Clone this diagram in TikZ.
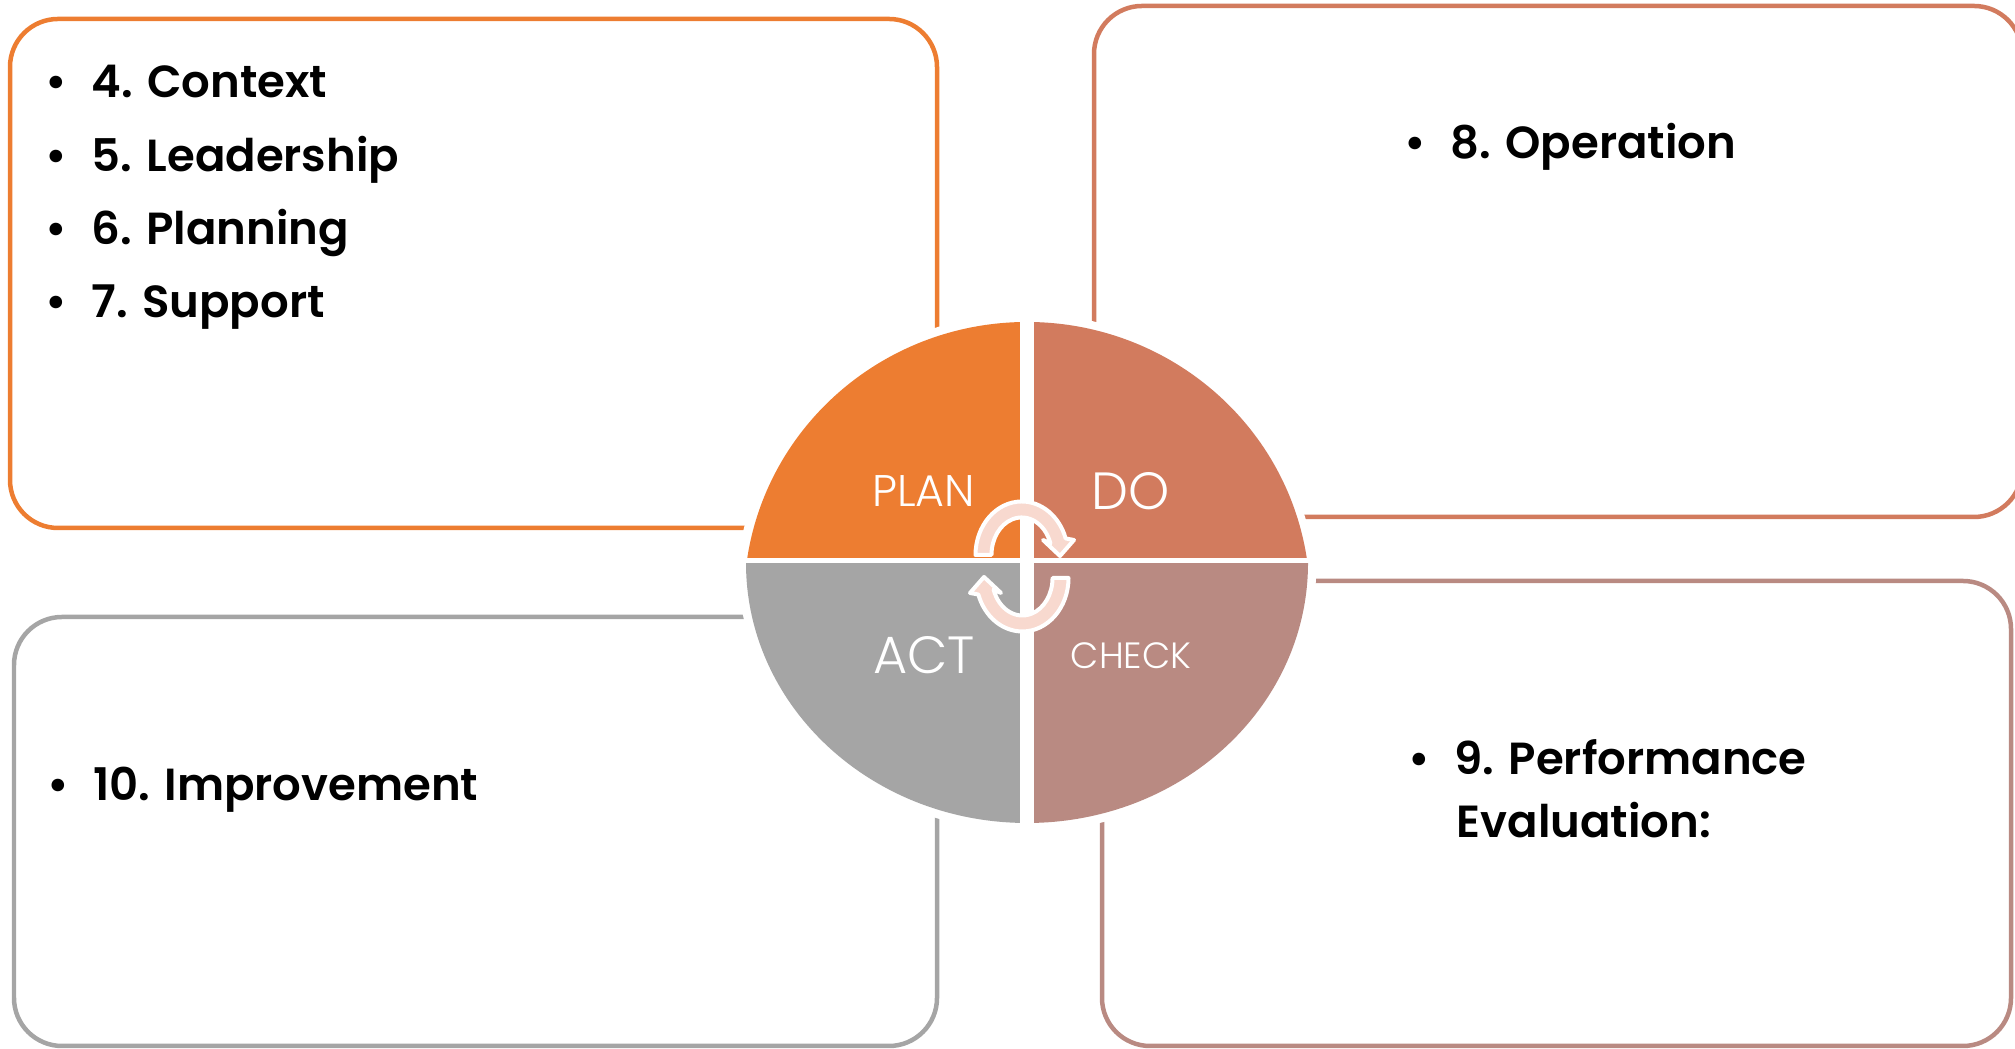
\documentclass[tikz,border=0pt]{standalone}
\usepackage{fontspec}
\setmainfont{Poppins}[BoldFont=* SemiBold]
\newfontfamily\quadfont{Poppins Light}
\usetikzlibrary{calc}

\definecolor{planorange}{HTML}{ED7D31}
\definecolor{docoral}{HTML}{D27B5E}
\definecolor{checkrose}{HTML}{B98A82}
\definecolor{actgray}{HTML}{A5A5A5}
\definecolor{arrowpink}{HTML}{F8D9CF}

\tikzset{
  clause box/.style={rounded corners=0.48cm, line width=0.045cm},
  clause/.style={anchor=base west, inner sep=0pt, font=\fontsize{12.8}{16}\selectfont\bfseries},
  quad label/.style={anchor=base, inner sep=0pt, text=white},
  cycle arrow/.style={fill=arrowpink, draw=white, line width=0.04cm, line join=round}
}
\newcommand{\bul}{\makebox[0.46cm][l]{\textbullet}}

\begin{document}
\begin{tikzpicture}
\clip (0,0) rectangle (20.15,10.49);

% the four clause boxes
\draw[clause box, planorange] (0.10,5.21) rectangle (9.37,10.30);
\draw[clause box, docoral] (10.94,5.32) rectangle (20.22,10.43);
\draw[clause box, actgray] (0.14,0.03) rectangle (9.37,4.32);
\draw[clause box, checkrose] (11.02,0.03) rectangle (20.11,4.68);

\node[clause] (context) at (0.45,9.51) {\bul 4. Context};
\node[clause] (leader) at (0.45,8.77) {\bul 5. Leadership};
\node[clause] (planning) at (0.45,8.04) {\bul 6. Planning};
\node[clause] (support) at (0.45,7.31) {\bul 7. Support};

\node[clause] (operation) at (14.04,8.905) {\bul 8. Operation};

\node[clause] (perf) at (14.08,2.74) {\bul 9. Performance};
\node[clause] (perfb) at (14.56,2.11) {Evaluation:};

\node[clause] (improve) at (0.466,2.483) {\bul 10. Improvement};

% white halo round the cycle
\draw[white, line width=0.17cm] (7.46,4.885) arc[start angle=171.8, end angle=8.2, x radius=2.83, y radius=2.78]
  -- (13.08,4.86) arc[start angle=0, end angle=-180, x radius=2.81, y radius=2.60] -- cycle;
\fill[white] (7.46,4.885) arc[start angle=171.8, end angle=8.2, x radius=2.83, y radius=2.78]
  -- (13.08,4.86) arc[start angle=0, end angle=-180, x radius=2.81, y radius=2.60] -- cycle;

% quadrants
\fill[planorange] (10.27,4.885) -- (10.27,7.27) arc[start angle=90, end angle=171.8, x radius=2.83, y radius=2.78] -- cycle;
\fill[docoral] (10.27,4.885) -- (10.27,7.27) arc[start angle=90, end angle=8.2, x radius=2.83, y radius=2.78] -- cycle;
\fill[actgray] (10.27,4.86) -- (7.46,4.86) arc[start angle=180, end angle=270, x radius=2.81, y radius=2.60] -- cycle;
\fill[checkrose] (10.27,4.86) -- (13.08,4.86) arc[start angle=0, end angle=-90, x radius=2.81, y radius=2.60] -- cycle;

\draw[white, line width=0.14cm] (10.27,7.35) -- (10.27,2.18);
\draw[white, line width=0.05cm] (7.35,4.885) -- (13.2,4.885);

\node[quad label, font=\quadfont\fontsize{12.6}{14}\selectfont] (plan) at (9.236,5.423) {PLAN};
\node[quad label, font=\quadfont\fontsize{14.9}{16}\selectfont] (do) at (11.305,5.397) {DO};
\node[quad label, font=\quadfont\fontsize{14.9}{16}\selectfont] (act) at (9.24,3.757) {ACT};
\node[quad label, font=\quadfont\fontsize{10.4}{12}\selectfont] (check) at (11.31,3.807) {CHECK};

% the two turning arrows
\filldraw[cycle arrow] (9.755,4.94) arc[start angle=180, end angle=18, x radius=0.462, y radius=0.535]
  -- (10.74,5.09) -- (10.60,4.93) -- (10.43,5.09)
  -- (10.504,5.056) arc[start angle=18, end angle=180, x radius=0.302, y radius=0.375] -- cycle;
\begin{scope}[rotate around={180:(10.22,4.825)}]
\filldraw[cycle arrow] (9.755,4.94) arc[start angle=180, end angle=18, x radius=0.462, y radius=0.535]
  -- (10.74,5.09) -- (10.60,4.93) -- (10.43,5.09)
  -- (10.504,5.056) arc[start angle=18, end angle=180, x radius=0.302, y radius=0.375] -- cycle;
\end{scope}
\end{tikzpicture}
\end{document}
